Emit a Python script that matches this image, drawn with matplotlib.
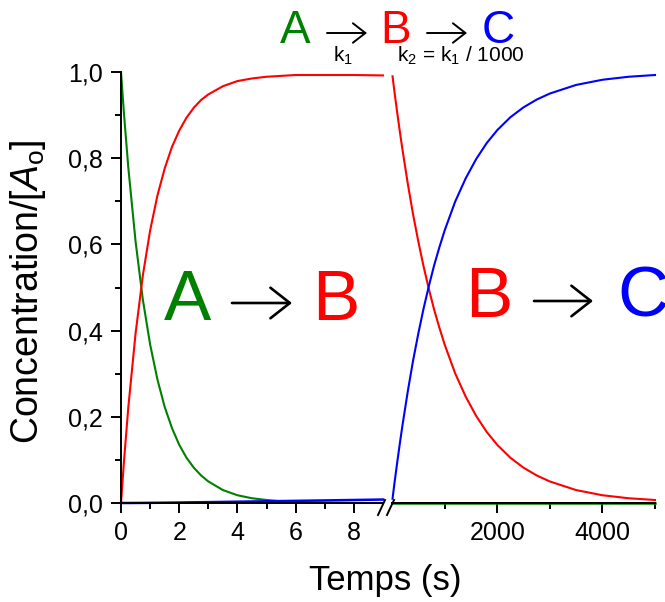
import matplotlib
matplotlib.use("Agg")
import matplotlib.pyplot as plt
from matplotlib.patches import FancyArrowPatch
from matplotlib.ticker import FixedLocator, FuncFormatter

plt.rcParams['font.family'] = ['Liberation Sans', 'DejaVu Sans']
plt.rcParams['mathtext.fontset'] = 'custom'
plt.rcParams['mathtext.rm'] = 'Liberation Sans'
plt.rcParams['mathtext.it'] = 'Liberation Sans:italic'

# short times (s)
t_short = [0, 0.1, 0.25, 0.5, 0.75, 1, 1.25, 1.5, 1.75, 2, 2.25, 2.5, 2.75, 3,
           3.5, 4, 4.5, 5, 5.5, 6, 7, 8, 9]
A_short = [1.0, 0.905, 0.779, 0.607, 0.472, 0.368, 0.287, 0.223, 0.174, 0.135,
           0.105, 0.082, 0.064, 0.050, 0.030, 0.018, 0.011, 0.007, 0.004, 0.002,
           0.001, 0.0, 0.0]
B_short = [0.0, 0.095, 0.221, 0.393, 0.528, 0.632, 0.713, 0.776, 0.826, 0.864,
           0.894, 0.917, 0.935, 0.948, 0.967, 0.979, 0.985, 0.989, 0.991, 0.993,
           0.993, 0.993, 0.992]
C_short = [0.0, 0.0, 0.0, 0.0001, 0.0002, 0.0004, 0.0005, 0.0007, 0.0009, 0.0011,
           0.0014, 0.0016, 0.0018, 0.002, 0.0025, 0.003, 0.0035, 0.004, 0.0045,
           0.005, 0.006, 0.007, 0.008]

# long times (s)
t_long = [10, 50, 100, 150, 200, 300, 400, 500, 600, 700, 800, 900, 1000, 1200,
          1400, 1600, 1800, 2000, 2250, 2500, 2750, 3000, 3500, 4000, 4500, 5000]
A_long = [0.0] * len(t_long)
B_long = [0.990, 0.951, 0.905, 0.861, 0.819, 0.741, 0.670, 0.607, 0.549, 0.497,
          0.449, 0.407, 0.368, 0.301, 0.247, 0.202, 0.165, 0.135, 0.105, 0.082,
          0.064, 0.050, 0.030, 0.018, 0.011, 0.007]
C_long = [0.010, 0.049, 0.095, 0.139, 0.181, 0.259, 0.330, 0.393, 0.451, 0.503,
          0.551, 0.593, 0.632, 0.699, 0.753, 0.798, 0.835, 0.865, 0.895, 0.918,
          0.936, 0.950, 0.970, 0.982, 0.989, 0.993]

green, red, blue = '#008000', '#ff0000', '#0000ff'
W, H = 665, 602

fig = plt.figure(figsize=(6.65, 6.02), dpi=100)
y0, y1 = 1 - 503 / H, 1 - 72 / H
ax1 = fig.add_axes([121 / W, y0, (383 - 121) / W, y1 - y0])
ax2 = fig.add_axes([392 / W, y0, (655 - 392) / W, y1 - y0])

ax1.plot(t_short, A_short, color=green, lw=1.5, clip_on=False)
ax1.plot(t_short, B_short, color=red, lw=1.5, clip_on=False)
ax1.plot(t_short, C_short, color=blue, lw=1.8, clip_on=False)
ax2.plot(t_long, A_long, color=green, lw=1.8, clip_on=False)
ax2.plot(t_long, B_long, color=red, lw=1.5, clip_on=False)
ax2.plot(t_long, C_long, color=blue, lw=1.5, clip_on=False)

comma = FuncFormatter(lambda v, p: ('%.1f' % v).replace('.', ','))
for ax in (ax1, ax2):
    ax.set_ylim(0, 1.0)
    ax.spines['top'].set_visible(False)
    ax.spines['right'].set_visible(False)
    ax.tick_params(which='major', direction='out', length=7, width=1.4,
                   labelsize=18, pad=6)
    ax.tick_params(which='minor', direction='out', length=4, width=1.4)
    ax.spines['bottom'].set_linewidth(1.4)
    ax.spines['left'].set_linewidth(1.4)

ax1.set_xlim(0, 9)
ax1.xaxis.set_major_locator(FixedLocator([0, 2, 4, 6, 8]))
ax1.xaxis.set_minor_locator(FixedLocator([1, 3, 5, 7]))
ax1.yaxis.set_major_locator(FixedLocator([0, 0.2, 0.4, 0.6, 0.8, 1.0]))
ax1.yaxis.set_minor_locator(FixedLocator([0.1, 0.3, 0.5, 0.7, 0.9]))
ax1.yaxis.set_major_formatter(comma)

ax2.set_xlim(0, 5000)
ax2.spines['left'].set_visible(False)
ax2.tick_params(axis='y', left=False, labelleft=False, which='both')
ax2.xaxis.set_major_locator(FixedLocator([2000, 4000]))
ax2.xaxis.set_minor_locator(FixedLocator([1000, 3000, 5000]))


def px(x, y):
    return x / W, 1 - y / H


fig.text(*px(28, 292), 'Concentration/[$\\mathit{A}_\\mathrm{o}$]', fontsize=27,
         rotation=90, ha='center', va='center')
fig.text(*px(385, 590), 'Temps (s)', fontsize=25, ha='center', va='baseline')

# axis break marks
for xb in (378, 387):
    fig.add_artist(plt.Line2D([xb / W, (xb + 7) / W], [1 - 515 / H, 1 - 500 / H],
                              color='black', lw=1.4))


def arrow(xa, xb, y, lw, hl, hw):
    fig.add_artist(FancyArrowPatch(px(xa, y), px(xb, y), transform=fig.transFigure,
                                   arrowstyle='->,head_length=%g,head_width=%g' % (hl, hw),
                                   lw=lw, color='black', shrinkA=0, shrinkB=0))


# big labels inside the plot
big = 51
fig.text(*px(187, 320), 'A', color=green, fontsize=big, ha='center', va='baseline')
arrow(232, 292, 303, 1.9, 14, 11)
fig.text(*px(336, 320), 'B', color=red, fontsize=big, ha='center', va='baseline')
fig.text(*px(489, 317), 'B', color=red, fontsize=big, ha='center', va='baseline')
arrow(534, 593, 301, 1.9, 14, 11)
fig.text(*px(617, 317), 'C', color=blue, fontsize=big, ha='left', va='baseline')

# reaction scheme at the top
top = 33
fig.text(*px(295, 43), 'A', color=green, fontsize=top, ha='center', va='baseline')
arrow(327, 367, 33, 1.4, 9, 7)
fig.text(*px(396, 43), 'B', color=red, fontsize=top, ha='center', va='baseline')
arrow(427, 467, 33, 1.4, 9, 7)
fig.text(*px(498, 43), 'C', color=blue, fontsize=top, ha='center', va='baseline')
fig.text(*px(333, 62), 'k$_\\mathrm{1}$', fontsize=15, ha='left', va='baseline')
fig.text(*px(397, 62), 'k$_\\mathrm{2}$ = k$_\\mathrm{1}$ / 1000', fontsize=15,
         ha='left', va='baseline')

fig.savefig('out.png', dpi=100)
